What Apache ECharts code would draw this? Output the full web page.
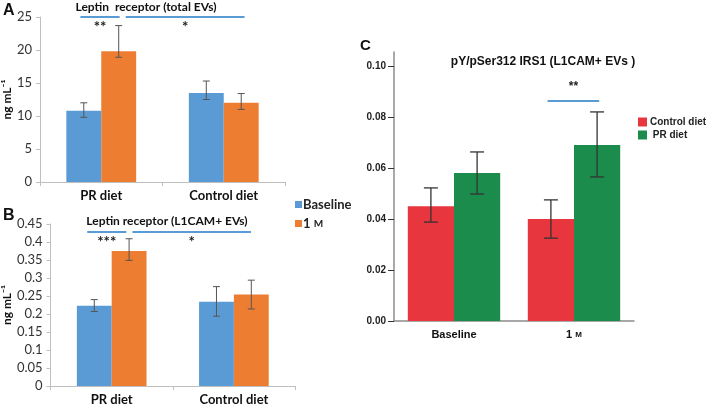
<!DOCTYPE html>
<html>
<head>
<meta charset="utf-8">
<script src="https://cdn.jsdelivr.net/npm/echarts@6/dist/echarts.min.js"></script>
<style>
html, body { margin: 0; padding: 0; background: #fff; }
#main { width: 709px; height: 406px; }
</style>
</head>
<body>
<div id="main"></div>
<script>
// 类别
var dietCats = ['PR diet', 'Control diet'];
var timeCats = ['Baseline', '1 M'];

// A: Leptin receptor (total EVs)
var totalBase = [10.8, 13.5];
var totalBaseLo = [9.8, 12.5];
var totalBaseHi = [12.0, 15.3];
var total1m = [19.8, 12.0];
var total1mLo = [18.9, 11.0];
var total1mHi = [23.7, 13.4];

// B: Leptin receptor (L1CAM+ EVs)
var l1Base = [0.223, 0.234];
var l1BaseLo = [0.207, 0.194];
var l1BaseHi = [0.240, 0.276];
var l1m = [0.375, 0.254];
var l1mLo = [0.349, 0.214];
var l1mHi = [0.409, 0.294];

// C: pY/pSer312 IRS1
var irsControl = [0.045, 0.040];
var irsControlLo = [0.0388, 0.0325];
var irsControlHi = [0.0522, 0.0475];
var irsPR = [0.058, 0.069];
var irsPRLo = [0.0498, 0.0565];
var irsPRHi = [0.0663, 0.082];

var yTicksC = [0, 0.02, 0.04, 0.06, 0.08, 0.10];

// 显著性标记 [起点, 终点 (以第一个类别中心为0的类别单位), y值, 文字]
var sigA = [[-0.17, 0.15, 25, '**'], [0.2, 1.17, 25, '*']];
var sigB = [[-0.2, 0.12, 0.428, '***'], [0.17, 1.14, 0.428, '*']];
var sigC = [[0.78, 1.21, 0.0863, '**']];

var BLUE = '#5b9bd5', ORANGE = '#ed7d31', RED = '#e8363f', GREEN = '#1b8c4c';
var GAP_AB = 0.43, GAP_C = 0.23;

var myChart = echarts.init(document.getElementById('main'));

/**
 * [误差线]
 */
function errorBars(idx, lo, hi, side, gap, cap, color, width) {
    return {
        type: 'custom', xAxisIndex: idx, yAxisIndex: idx, z: 10, silent: true,
        data: lo.map(function (v, i) { return [i, v, hi[i]]; }),
        encode: { x: 0, y: [1, 2] },
        renderItem: function (params, api) {
            var w = api.size([1, 0])[0];
            var dx = side * w * (1 - gap) / 4;
            var p1 = api.coord([api.value(0), api.value(1)]);
            var p2 = api.coord([api.value(0), api.value(2)]);
            var x = p1[0] + dx;
            var st = { stroke: color, lineWidth: width };
            return {
                type: 'group', children: [
                    { type: 'line', shape: { x1: x, y1: p1[1], x2: x, y2: p2[1] }, style: st },
                    { type: 'line', shape: { x1: x - cap / 2, y1: p1[1], x2: x + cap / 2, y2: p1[1] }, style: st },
                    { type: 'line', shape: { x1: x - cap / 2, y1: p2[1], x2: x + cap / 2, y2: p2[1] }, style: st }
                ]
            };
        }
    };
}

/**
 * [显著性线和星号]
 */
function sigSeries(idx, list, starDy, font) {
    return {
        type: 'custom', xAxisIndex: idx, yAxisIndex: idx, z: 10, silent: true,
        data: list.map(function (s) { return [0, s[2]]; }),
        renderItem: function (params, api) {
            var s = list[params.dataIndex];
            var w = api.size([1, 0])[0];
            var c = api.coord([0, s[2]]);
            var x1 = c[0] + s[0] * w, x2 = c[0] + s[1] * w;
            return {
                type: 'group', children: [
                    { type: 'line', shape: { x1: x1, y1: c[1], x2: x2, y2: c[1] }, style: { stroke: BLUE, lineWidth: 2 } },
                    { type: 'text', style: { text: s[3], x: (x1 + x2) / 2, y: c[1] + starDy, align: 'center', verticalAlign: 'middle', font: font, fill: '#222' } }
                ]
            };
        }
    };
}

function bar(idx, name, data, color, gap) {
    return {
        type: 'bar', name: name, xAxisIndex: idx, yAxisIndex: idx, data: data,
        barGap: 0, barCategoryGap: (gap * 100) + '%', itemStyle: { color: color },
        animation: false
    };
}

var catLabelAB = { fontFamily: 'Lato', fontWeight: 'bold', fontSize: 13, color: '#111', margin: 7 };
var valLabelAB = { fontFamily: 'Lato', fontSize: 13, color: '#333', margin: 8 };
var axisLineAB = { show: true, lineStyle: { color: '#bfbfbf', width: 1 } };

function smallM(v) { return v === '1 M' ? '1 {s|M}' : v; }

var option = {
    animation: false,
    legend: [{
        data: ['Baseline', '1 M'], orient: 'vertical', left: 290, top: 193,
        itemWidth: 7, itemHeight: 7, itemGap: 6, icon: 'rect',
        formatter: smallM,
        textStyle: { fontFamily: 'Lato', fontWeight: 'bold', fontSize: 13, color: '#222', padding: [0, 0, 0, -4],
            rich: { s: { fontFamily: 'Lato', fontWeight: 'bold', fontSize: 10, color: '#222' } } }
    }, {
        data: ['Control diet', ' PR diet'], orient: 'vertical', left: 633, top: 112,
        itemWidth: 9, itemHeight: 9, itemGap: 3, icon: 'rect',
        textStyle: { fontFamily: 'Liberation Sans', fontWeight: 'bold', fontSize: 10, color: '#222', padding: [0, 0, 0, -2] }
    }],
    grid: [
        { left: 39, top: 17, width: 246, height: 165 },
        { left: 49, top: 224, width: 246, height: 165 },
        { left: 394, top: 52, width: 240, height: 269 }
    ],
    xAxis: [
        { gridIndex: 0, type: 'category', data: dietCats, axisLine: axisLineAB,
          axisTick: { show: true, length: 4, lineStyle: { color: '#bfbfbf' } }, axisLabel: catLabelAB },
        { gridIndex: 1, type: 'category', data: dietCats, axisLine: axisLineAB,
          axisTick: { show: true, length: 4, lineStyle: { color: '#bfbfbf' } }, axisLabel: catLabelAB },
        { gridIndex: 2, type: 'category', data: timeCats,
          axisLine: { show: true, lineStyle: { color: '#8c8c8c', width: 1.5 } }, axisTick: { show: false },
          axisLabel: { fontFamily: 'Liberation Sans', fontWeight: 'bold', fontSize: 11, color: '#111', margin: 8,
              formatter: smallM, rich: { s: { fontFamily: 'Liberation Sans', fontWeight: 'bold', fontSize: 8, color: '#111' } } } }
    ],
    yAxis: [
        { gridIndex: 0, type: 'value', min: 0, max: 25, interval: 5, splitLine: { show: false },
          axisLine: axisLineAB, axisTick: { show: true, length: 4, lineStyle: { color: '#bfbfbf' } },
          axisLabel: valLabelAB,
          name: 'ng mL\u207B\u00B9', nameLocation: 'middle', nameRotate: 90, nameGap: 27,
          nameTextStyle: { fontFamily: 'Lato', fontWeight: 'bold', fontSize: 12, color: '#111' } },
        { gridIndex: 1, type: 'value', min: 0, max: 0.45, interval: 0.05, splitLine: { show: false },
          axisLine: axisLineAB, axisTick: { show: true, length: 4, lineStyle: { color: '#bfbfbf' } },
          axisLabel: valLabelAB,
          name: 'ng mL\u207B\u00B9', nameLocation: 'middle', nameRotate: 90, nameGap: 37,
          nameTextStyle: { fontFamily: 'Lato', fontWeight: 'bold', fontSize: 12, color: '#111' } },
        { gridIndex: 2, type: 'value', min: 0, max: 0.1055, splitLine: { show: false },
          axisLine: { show: true, lineStyle: { color: '#8c8c8c', width: 1.5 } },
          axisTick: { show: true, length: 6, customValues: yTicksC, lineStyle: { color: '#333' } },
          axisLabel: { customValues: yTicksC, formatter: function (v) { return v.toFixed(2); },
              fontFamily: 'Liberation Sans', fontWeight: 'bold', fontSize: 10, color: '#222', margin: 8 } }
    ],
    graphic: [
        { type: 'text', left: 3, top: 3, style: { text: 'A', font: 'bold 16px Liberation Sans', fill: '#111' } },
        { type: 'text', left: 3, top: 208, style: { text: 'B', font: 'bold 16px Liberation Sans', fill: '#111' } },
        { type: 'text', left: 360, top: 38, style: { text: 'C', font: 'bold 15px Liberation Sans', fill: '#111' } },
        { type: 'text', x: 146, y: 7, style: { text: 'Leptin  receptor (total EVs)', align: 'center', verticalAlign: 'middle', font: 'bold 12px Lato', fill: '#111' } },
        { type: 'text', x: 167, y: 221, style: { text: 'Leptin receptor (L1CAM+ EVs)', align: 'center', verticalAlign: 'middle', font: 'bold 12px Lato', fill: '#111' } },
        { type: 'text', x: 543, y: 62, style: { text: 'pY/pSer312 IRS1 (L1CAM+ EVs )', align: 'center', verticalAlign: 'middle', font: 'bold 12px Liberation Sans', fill: '#111' } }
    ],
    series: [
        bar(0, 'Baseline', totalBase, BLUE, GAP_AB),
        bar(0, '1 M', total1m, ORANGE, GAP_AB),
        bar(1, 'Baseline', l1Base, BLUE, GAP_AB),
        bar(1, '1 M', l1m, ORANGE, GAP_AB),
        bar(2, 'Control diet', irsControl, RED, GAP_C),
        bar(2, ' PR diet', irsPR, GREEN, GAP_C),
        errorBars(0, totalBaseLo, totalBaseHi, -1, GAP_AB, 7, '#555', 1),
        errorBars(0, total1mLo, total1mHi, 1, GAP_AB, 7, '#555', 1),
        errorBars(1, l1BaseLo, l1BaseHi, -1, GAP_AB, 7, '#555', 1),
        errorBars(1, l1mLo, l1mHi, 1, GAP_AB, 7, '#555', 1),
        errorBars(2, irsControlLo, irsControlHi, -1, GAP_C, 14, '#333', 1.3),
        errorBars(2, irsPRLo, irsPRHi, 1, GAP_C, 14, '#333', 1.3),
        sigSeries(0, sigA, 10, 'bold 15px Lato'),
        sigSeries(1, sigB, 10, 'bold 15px Lato'),
        sigSeries(2, sigC, -14, 'bold 12px Liberation Sans')
    ]
};

myChart.setOption(option);
</script>
</body>
</html>
